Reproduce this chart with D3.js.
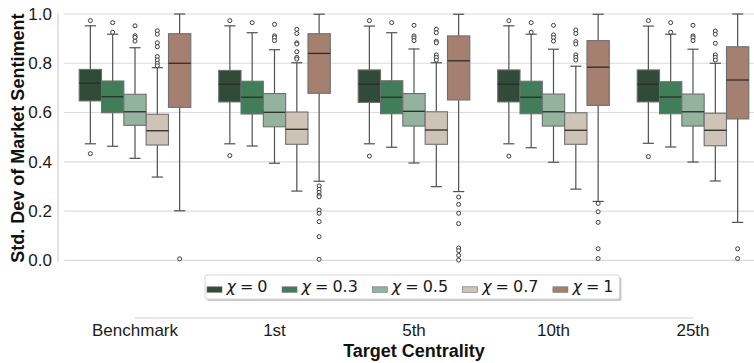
<!DOCTYPE html>
<html>
<head>
<meta charset="utf-8">
<script src="https://cdn.jsdelivr.net/npm/d3@7/dist/d3.min.js"></script>
<style>
  html, body { margin: 0; padding: 0; background: #fff; }
  svg { display: block; }
</style>
</head>
<body>
<svg id="chart" width="754" height="363"></svg>
<script>
// Target-centrality categories and market-strategy mixing levels (chi)
const categories = ["Benchmark", "1st", "5th", "10th", "25th"];
const chiLevels = ["0", "0.3", "0.5", "0.7", "1"];
const chiColors = ["#314b39", "#407d58", "#93b39f", "#cdc4b7", "#a57f70"];
const yTicks = [0.0, 0.2, 0.4, 0.6, 0.8, 1.0];

// Box statistics per category: [lower whisker, Q1, median, Q3, upper whisker]
const statsChi0 = [
  [0.473, 0.647, 0.719, 0.775, 0.952],
  [0.473, 0.643, 0.715, 0.771, 0.952],
  [0.473, 0.641, 0.715, 0.773, 0.951],
  [0.473, 0.643, 0.715, 0.773, 0.952],
  [0.475, 0.643, 0.715, 0.773, 0.951]
];
const statsChi03 = [
  [0.463, 0.599, 0.664, 0.728, 0.918],
  [0.464, 0.594, 0.662, 0.727, 0.924],
  [0.459, 0.595, 0.662, 0.729, 0.924],
  [0.457, 0.595, 0.662, 0.727, 0.918],
  [0.460, 0.595, 0.663, 0.725, 0.918]
];
const statsChi05 = [
  [0.414, 0.548, 0.603, 0.674, 0.863],
  [0.394, 0.542, 0.601, 0.677, 0.855],
  [0.395, 0.545, 0.605, 0.677, 0.858],
  [0.398, 0.545, 0.603, 0.675, 0.857],
  [0.399, 0.545, 0.603, 0.675, 0.857]
];
const statsChi07 = [
  [0.338, 0.468, 0.526, 0.593, 0.782],
  [0.281, 0.471, 0.532, 0.602, 0.802],
  [0.299, 0.471, 0.529, 0.603, 0.802],
  [0.289, 0.471, 0.528, 0.599, 0.788],
  [0.322, 0.465, 0.528, 0.597, 0.800]
];
const statsChi1 = [
  [0.201, 0.621, 0.800, 0.920, 1.000],
  [0.321, 0.678, 0.840, 0.920, 0.999],
  [0.279, 0.651, 0.810, 0.911, 0.999],
  [0.239, 0.629, 0.784, 0.892, 0.999],
  [0.154, 0.574, 0.732, 0.867, 1.000]
];

// Fliers beyond the whiskers, per category
const fliersChi0 = [
  [0.973, 0.433],
  [0.973, 0.425],
  [0.973, 0.423],
  [0.973, 0.423],
  [0.973, 0.421]
];
const fliersChi03 = [
  [0.965, 0.926],
  [0.965],
  [0.965],
  [0.965, 0.926],
  [0.965, 0.926]
];
const fliersChi05 = [
  [0.952, 0.912, 0.905, 0.890],
  [0.958, 0.911, 0.904, 0.892],
  [0.954, 0.911, 0.903, 0.892],
  [0.954, 0.915, 0.904, 0.890],
  [0.954, 0.911, 0.904, 0.892]
];
const fliersChi07 = [
  [0.932, 0.918, 0.883, 0.867, 0.827, 0.813, 0.800, 0.790],
  [0.938, 0.921, 0.883, 0.878, 0.847, 0.824, 0.817],
  [0.938, 0.924, 0.889, 0.883, 0.834, 0.824, 0.813],
  [0.935, 0.921, 0.888, 0.878, 0.834, 0.824, 0.813],
  [0.931, 0.918, 0.881, 0.834, 0.824, 0.813]
];
const fliersChi1 = [
  [0.006],
  [0.302, 0.288, 0.276, 0.264, 0.258, 0.204, 0.191, 0.157, 0.096, 0.004],
  [0.257, 0.227, 0.191, 0.149, 0.050, 0.039, 0.020, 0.001],
  [0.231, 0.197, 0.154, 0.047, 0.007],
  [0.047, 0.007]
];

const allStats = [statsChi0, statsChi03, statsChi05, statsChi07, statsChi1];
const allFliers = [fliersChi0, fliersChi03, fliersChi05, fliersChi07, fliersChi1];

const svg = d3.select("#chart");
const W = 754, H = 363;

// Scales
const x = d3.scaleBand().domain(categories).range([65.25, 762.75]).padding(0);
const xInner = d3.scaleBand().domain(chiLevels)
  .range([x.bandwidth() * 0.1, x.bandwidth() * 0.9]).padding(0);
const y = d3.scaleLinear().domain([0, 1]).range([260.3, 14]);

const sansFont = "'Liberation Sans', Arial, Helvetica, sans-serif";
const mathFont = "'DejaVu Sans', sans-serif";

// Horizontal grid lines
svg.append("g")
  .selectAll("line")
  .data(yTicks)
  .join("line")
  .attr("x1", 64).attr("x2", W)
  .attr("y1", d => y(d)).attr("y2", d => y(d))
  .attr("stroke", "#dcdcdc")
  .attr("stroke-width", 1.2);

// Left axis with its spine
const yAxis = svg.append("g")
  .attr("transform", "translate(58,0)")
  .call(d3.axisLeft(y).tickValues(yTicks).tickFormat(d3.format(".1f")).tickSize(0).tickPadding(6));
yAxis.select(".domain").attr("stroke", "#d0d0d0").attr("stroke-width", 1.2)
  .attr("d", `M0,${y(1) - 1}V${y(0) + 1.5}`);
yAxis.selectAll("text")
  .attr("font-family", sansFont)
  .attr("font-size", 17)
  .attr("fill", "#1a1a1a");

svg.append("text")
  .attr("transform", `translate(24,${(y(0) + y(1)) / 2 + 1}) rotate(-90)`)
  .attr("text-anchor", "middle")
  .attr("font-family", sansFont)
  .attr("font-weight", "bold")
  .attr("font-size", 18)
  .attr("fill", "#111")
  .text("Std. Dev of Market Sentiment");

// Boxes
const boxStroke = "#6f6f6f";
const lineStroke = "#505050";
const groups = svg.append("g");

allStats.forEach((series, si) => {
  const w = xInner.bandwidth();
  series.forEach((s, ci) => {
    const [lo, q1, med, q3, hi] = s;
    const x0 = x(categories[ci]) + xInner(chiLevels[si]);
    const cx = x0 + w / 2;
    const g = groups.append("g");

    // whiskers
    g.append("line").attr("x1", cx).attr("x2", cx).attr("y1", y(q3)).attr("y2", y(hi))
      .attr("stroke", lineStroke).attr("stroke-width", 1.2);
    g.append("line").attr("x1", cx).attr("x2", cx).attr("y1", y(q1)).attr("y2", y(lo))
      .attr("stroke", lineStroke).attr("stroke-width", 1.2);
    // caps
    [lo, hi].forEach(v => {
      g.append("line").attr("x1", cx - w / 4).attr("x2", cx + w / 4)
        .attr("y1", y(v)).attr("y2", y(v))
        .attr("stroke", lineStroke).attr("stroke-width", 1.2);
    });
    // box
    g.append("rect")
      .attr("x", x0).attr("width", w)
      .attr("y", y(q3)).attr("height", y(q1) - y(q3))
      .attr("fill", chiColors[si])
      .attr("stroke", boxStroke).attr("stroke-width", 1.1);
    // median
    g.append("line").attr("x1", x0).attr("x2", x0 + w)
      .attr("y1", y(med)).attr("y2", y(med))
      .attr("stroke", "#2b2b2b").attr("stroke-width", 1.3);
    // fliers
    g.selectAll("circle")
      .data(allFliers[si][ci])
      .join("circle")
      .attr("cx", cx).attr("cy", d => y(d)).attr("r", 2)
      .attr("fill", "#fff")
      .attr("stroke", "#3a3a3a").attr("stroke-width", 1);
  });
});

// Bottom axis: category labels and the line joining the category centres
const xAxis = svg.append("g")
  .attr("transform", "translate(0,318)")
  .call(d3.axisBottom(x).tickSize(0).tickPadding(5.8));
xAxis.select(".domain").remove();
xAxis.selectAll("text")
  .attr("font-family", sansFont)
  .attr("font-size", 17)
  .attr("fill", "#1a1a1a");
svg.append("line")
  .attr("x1", x(categories[0]) + x.bandwidth() / 2)
  .attr("x2", x(categories[categories.length - 1]) + x.bandwidth() / 2)
  .attr("y1", 318).attr("y2", 318)
  .attr("stroke", "#d0d0d0").attr("stroke-width", 1.2);

svg.append("text")
  .attr("x", 414).attr("y", 356.5)
  .attr("text-anchor", "middle")
  .attr("font-family", sansFont)
  .attr("font-weight", "bold")
  .attr("font-size", 18)
  .attr("fill", "#111")
  .text("Target Centrality");

// Legend
const legend = svg.append("g").attr("transform", "translate(205,275)");
const shadow = legend.append("rect");
const frame = legend.append("rect");
const items = legend.append("g");
let cursor = 2;
chiLevels.forEach((lvl, i) => {
  const it = items.append("g").attr("transform", `translate(${cursor},0)`);
  it.append("rect")
    .attr("x", 0).attr("y", 11.8).attr("width", 15).attr("height", 5.5)
    .attr("fill", chiColors[i]).attr("stroke", boxStroke).attr("stroke-width", 0.6);
  const t = it.append("text")
    .attr("x", 19.5).attr("y", 17)
    .attr("font-family", mathFont)
    .attr("font-size", 16)
    .attr("word-spacing", -1.1)
    .attr("fill", "#1a1a1a");
  t.append("tspan").attr("font-style", "italic").text("\u03C7");
  t.append("tspan").text(" = " + lvl);
  const tw = t.node().getComputedTextLength();
  cursor += 19.5 + tw + 14.5;
});
const legendW = cursor - 14.5 + 6;
shadow.attr("x", 2).attr("y", 2).attr("width", legendW).attr("height", 24)
  .attr("rx", 2).attr("fill", "#c8c8c8");
frame.attr("x", 0).attr("y", 0).attr("width", legendW).attr("height", 24)
  .attr("rx", 2).attr("fill", "#fff").attr("stroke", "#d6d6d6").attr("stroke-width", 1);
</script>
</body>
</html>
